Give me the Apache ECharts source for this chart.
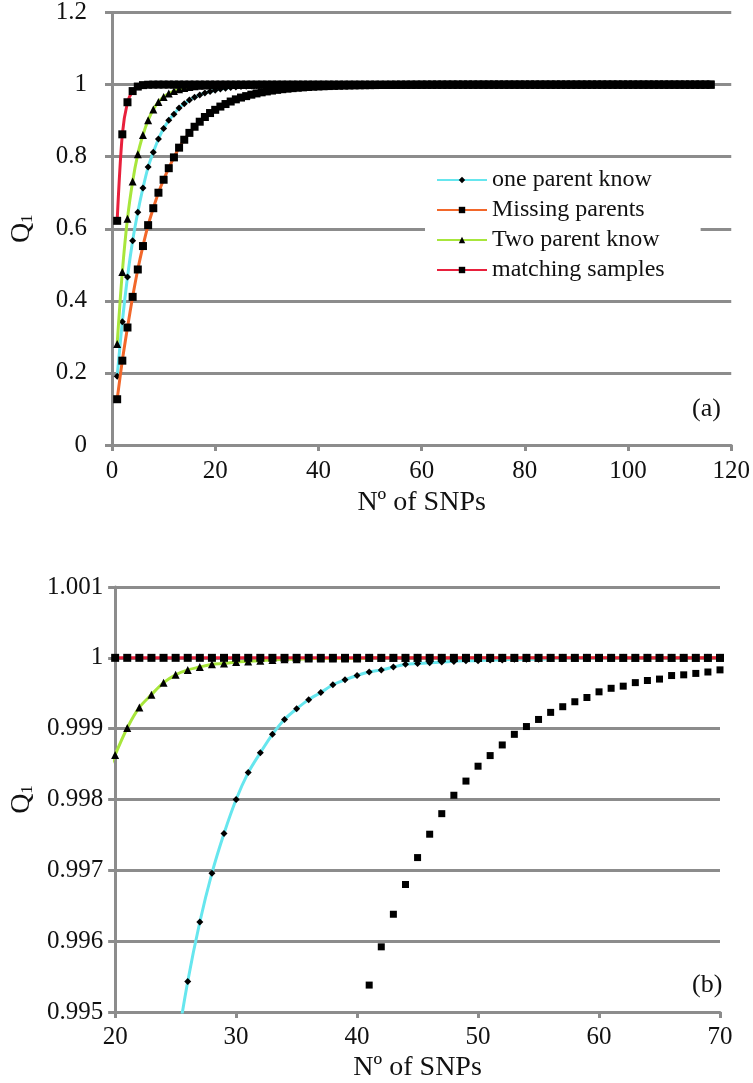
<!DOCTYPE html>
<html>
<head>
<meta charset="utf-8">
<script src="https://cdn.jsdelivr.net/npm/echarts@6/dist/echarts.min.js"></script>
<style>html,body{margin:0;padding:0;background:#fff}#c{width:753px;height:1083px}</style>
</head>
<body>
<div id="c"></div>
<script>
const seriesNames = ['one parent know', 'Missing parents', 'Two parent know', 'matching samples'];
const xTicksTop = [0, 20, 40, 60, 80, 100, 120];
const yTicksTop = [0, 0.2, 0.4, 0.6, 0.8, 1, 1.2];
const xTicksBottom = [20, 30, 40, 50, 60, 70];
const yTicksBottom = [0.995, 0.996, 0.997, 0.998, 0.999, 1, 1.001];

const snps = [
  1,2,3,4,5,6,7,8,9,10,
  11,12,13,14,15,16,17,18,19,20,
  21,22,23,24,25,26,27,28,29,30,
  31,32,33,34,35,36,37,38,39,40,
  41,42,43,44,45,46,47,48,49,50,
  51,52,53,54,55,56,57,58,59,60,
  61,62,63,64,65,66,67,68,69,70,
  71,72,73,74,75,76,77,78,79,80,
  81,82,83,84,85,86,87,88,89,90,
  91,92,93,94,95,96,97,98,99,100,
  101,102,103,104,105,106,107,108,109,110,
  111,112,113,114,115,116
];

const oneParent = [
  0.191,0.342,0.466,0.567,0.646,0.713,0.771,0.812,0.849,0.878,
  0.901,0.918,0.935,0.947,0.957,0.965,0.9714,0.9767,0.9810,0.9845,
  0.9874,0.9897,0.9916,0.9932,0.9944,0.99543,0.99627,0.99696,0.99752,0.99800,
  0.99838,0.99866,0.99892,0.99913,0.99928,0.99941,0.99951,0.99962,0.99969,0.99975,
  0.99980,0.99983,0.99987,0.99991,0.99992,0.99993,0.99994,0.99995,0.99996,0.99996,
  0.99997,0.99997,0.99998,0.99998,0.99998,0.99999,0.99999,0.99999,0.99999,0.99999,
  1,1,1,1,1,1,1,1,1,1,
  1,1,1,1,1,1,1,1,1,1,
  1,1,1,1,1,1,1,1,1,1,
  1,1,1,1,1,1,1,1,1,1,
  1,1,1,1,1,1,1,1,1,1,
  1,1,1,1,1,1
];

const missingParents = [
  0.127,0.234,0.326,0.411,0.487,0.552,0.610,0.657,0.700,0.736,
  0.768,0.798,0.825,0.847,0.866,0.883,0.897,0.910,0.921,0.930,
  0.939,0.946,0.953,0.959,0.964,0.968,0.972,0.9755,0.9785,0.981,
  0.9834,0.9854,0.9872,0.9887,0.9901,0.9913,0.9923,0.9933,0.9941,0.9948,
  0.99538,0.99592,0.99638,0.99680,0.99718,0.99751,0.99780,0.99806,0.99826,0.99847,
  0.99862,0.99877,0.99892,0.99903,0.99913,0.99923,0.99931,0.99938,0.99944,0.99952,
  0.99957,0.99960,0.99965,0.99968,0.99970,0.99975,0.99976,0.99978,0.99980,0.99983,
  0.99985,0.99987,0.99988,0.99989,0.99990,0.99991,0.99992,0.99993,0.99994,0.99994,
  0.99995,0.99996,0.99996,0.99997,0.99997,0.99997,0.99998,0.99998,0.99998,0.99998,
  0.99999,0.99999,0.99999,0.99999,0.99999,0.99999,0.99999,0.99999,0.99999,0.99999,
  1,1,1,1,1,1,1,1,1,1,
  1,1,1,1,1,1
];

const twoParent = [
  0.280,0.480,0.628,0.731,0.807,0.860,0.901,0.931,0.952,0.9655,
  0.975,0.982,0.9872,0.9908,0.9934,0.9953,0.9966,0.9975,0.9982,0.99863,
  0.99901,0.99930,0.99948,0.99965,0.99976,0.99983,0.99987,0.99991,0.99992,0.99994,
  0.99995,0.99996,0.99997,0.99998,0.99998,0.99999,0.99999,0.99999,0.99999,0.99999,
  1,1,1,1,1,1,1,1,1,1,
  1,1,1,1,1,1,1,1,1,1,
  1,1,1,1,1,1,1,1,1,1,
  1,1,1,1,1,1,1,1,1,1,
  1,1,1,1,1,1,1,1,1,1,
  1,1,1,1,1,1,1,1,1,1,
  1,1,1,1,1,1,1,1,1,1,
  1,1,1,1,1,1
];

const matchingSamples = [
  0.622,0.862,0.951,0.982,0.9945,0.9985,0.9996,0.9999,1,1,
  1,1,1,1,1,1,1,1,1,1,
  1,1,1,1,1,1,1,1,1,1,
  1,1,1,1,1,1,1,1,1,1,
  1,1,1,1,1,1,1,1,1,1,
  1,1,1,1,1,1,1,1,1,1,
  1,1,1,1,1,1,1,1,1,1,
  1,1,1,1,1,1,1,1,1,1,
  1,1,1,1,1,1,1,1,1,1,
  1,1,1,1,1,1,1,1,1,1,
  1,1,1,1,1,1,1,1,1,1,
  1,1,1,1,1,1
];

const FONT = '"Liberation Serif", "Times New Roman", serif';
const GRAY = '#8c8c8c';
const INK = '#111';
const lineColors = ['#66e6ee', '#f2672a', '#a8e63c', '#e8203c'];
const symbols = ['diamond', 'rect', 'triangle', 'rect'];
const symbolSizes = [7, 8, 8, 8];
const values = [oneParent, missingParents, twoParent, matchingSamples];

const pairs = arr => snps.map((x, i) => [x, arr[i]]);

function xAxisCfg(gridIndex, min, max, interval, gap, labelMargin) {
  return {
    type: 'value', gridIndex, min, max, interval,
    name: 'Nº of SNPs', nameLocation: 'middle', nameGap: gap,
    nameTextStyle: { fontFamily: FONT, fontSize: 28, color: INK },
    axisLine: { show: true, lineStyle: { color: GRAY, width: 3 } },
    axisTick: { show: true, inside: false, length: 6, lineStyle: { color: GRAY, width: 3 } },
    axisLabel: { fontFamily: FONT, fontSize: 25, color: INK, margin: labelMargin },
    splitLine: { show: false }
  };
}
function yAxisCfg(gridIndex, min, max, interval, labelMargin, fmt) {
  return {
    type: 'value', gridIndex, min, max, interval,
    name: '{q|Q}{s|1}', nameLocation: 'middle', nameGap: 76, nameRotate: 90,
    nameTextStyle: {
      rich: {
        q: { fontFamily: FONT, fontSize: 28, color: INK, verticalAlign: 'bottom', lineHeight: 32 },
        s: { fontFamily: FONT, fontSize: 17, color: INK, verticalAlign: 'bottom', lineHeight: 24 }
      }
    },
    axisLine: { show: true, onZero: false, lineStyle: { color: GRAY, width: 3 } },
    axisTick: { show: true, length: 7, lineStyle: { color: GRAY, width: 3 } },
    axisLabel: { fontFamily: FONT, fontSize: 25, color: INK, margin: labelMargin, formatter: fmt },
    splitLine: { show: true, lineStyle: { color: GRAY, width: 3 } }
  };
}

const series = [];
[0, 1].forEach(g => {
  values.forEach((arr, k) => {
    const hideLine = (g === 1 && k === 1);
    series.push({
      name: seriesNames[k],
      type: 'line',
      xAxisIndex: g, yAxisIndex: g,
      data: pairs(arr),
      smooth: 0.3,
      symbol: symbols[k],
      symbolSize: (g === 1 && k === 1) ? 7 : symbolSizes[k],
      showSymbol: true,
      clip: true,
      itemStyle: { color: '#000' },
      lineStyle: { color: lineColors[k], width: hideLine ? 0 : 3, opacity: hideLine ? 0 : 1 },
      z: 2 + k,
      animation: false
    });
  });
});

const chart = echarts.init(document.getElementById('c'), null, { renderer: 'canvas' });
chart.setOption({
  animation: false,
  backgroundColor: '#fff',
  textStyle: { fontFamily: FONT },
  grid: [
    { left: 107, right: 19, top: 10, height: 435 },
    { left: 107, right: 33, top: 587, height: 427 }
  ],
  xAxis: [
    xAxisCfg(0, xTicksTop[0], xTicksTop[xTicksTop.length - 1], 20, 44, 14),
    xAxisCfg(1, xTicksBottom[0], xTicksBottom[xTicksBottom.length - 1], 10, 42, 13)
  ],
  yAxis: [
    yAxisCfg(0, yTicksTop[0], yTicksTop[yTicksTop.length - 1], 0.2, 25, v => String(+v.toFixed(1))),
    yAxisCfg(1, yTicksBottom[0], yTicksBottom[yTicksBottom.length - 1], 0.001, 12, v => String(+v.toFixed(3)))
  ],
  legend: {
    data: seriesNames,
    orient: 'vertical',
    left: 425, top: 160,
    backgroundColor: '#fff',
    padding: [8, 36, 8, 11],
    itemWidth: 50, itemHeight: 8, itemGap: 6,
    textStyle: { fontFamily: FONT, fontSize: 24, color: INK },
    selectedMode: false
  },
  graphic: [
    { type: 'text', left: 692, top: 396, style: { text: '(a)', font: '26px ' + FONT, fill: INK } },
    { type: 'text', left: 692, top: 972, style: { text: '(b)', font: '26px ' + FONT, fill: INK } }
  ],
  series
});
</script>
</body>
</html>
